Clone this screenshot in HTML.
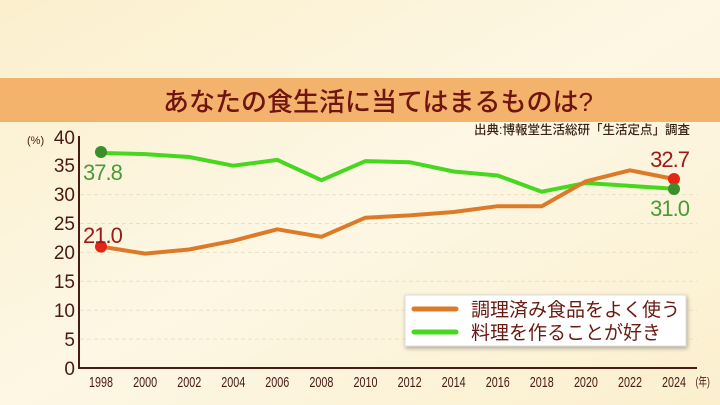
<!DOCTYPE html><html><head><meta charset="utf-8"><style>
html,body{margin:0;padding:0;width:720px;height:405px;overflow:hidden;background:#fcf3d6}
text{font-family:"Liberation Sans","Noto Sans CJK JP",sans-serif}
</style></head><body>
<svg width="720" height="405" viewBox="0 0 720 405">
<defs><linearGradient id="bg" x1="0" y1="0" x2="1" y2="1"><stop offset="0" stop-color="#fbefcd"/><stop offset="0.5" stop-color="#fdf7e4"/><stop offset="1" stop-color="#fbefcd"/></linearGradient></defs>
<rect width="720" height="405" fill="url(#bg)"/>
<rect x="0" y="78" width="720" height="44" fill="#f3b36c"/>
<text x="378" y="111" text-anchor="middle" font-size="26" font-weight="500" fill="#6e1510" font-family="Noto Sans CJK JP,sans-serif">あなたの食生活に当てはまるものは?</text>
<text x="690" y="134" text-anchor="end" font-size="12.5" font-weight="500" fill="#3a2418" font-family="Noto Sans CJK JP,sans-serif">出典:博報堂生活総研「生活定点」調査</text>
<g stroke="#e9dfc8" stroke-dasharray="4,3" stroke-width="1">
<line x1="80" x2="697" y1="310.2" y2="310.2"/><line x1="80" x2="697" y1="281.3" y2="281.3"/><line x1="80" x2="697" y1="252.4" y2="252.4"/><line x1="80" x2="697" y1="223.5" y2="223.5"/><line x1="80" x2="697" y1="194.6" y2="194.6"/><line x1="80" x2="697" y1="339.1" y2="339.1"/>
</g>
<g stroke="#4a1a14" stroke-width="2"><line x1="79" y1="136" x2="79" y2="369"/><line x1="78" y1="368" x2="697" y2="368"/></g>
<g font-size="19" fill="#4a1a14" text-anchor="end">
<text x="75" y="375">0</text><text x="75" y="346">5</text><text x="75" y="317">10</text><text x="75" y="288">15</text><text x="75" y="259">20</text><text x="75" y="230">25</text><text x="75" y="201">30</text><text x="75" y="172">35</text><text x="75" y="144">40</text></g>
<text x="27" y="144" font-size="11" fill="#4a1a14">(%)</text>
<g font-size="15" fill="#4a1a14" text-anchor="middle" transform="scale(0.72,1)">
<text x="140.3" y="387">1998</text><text x="201.5" y="387">2000</text><text x="262.8" y="387">2002</text><text x="323.9" y="387">2004</text><text x="385.1" y="387">2006</text><text x="446.4" y="387">2008</text><text x="507.6" y="387">2010</text><text x="568.9" y="387">2012</text><text x="630" y="387">2014</text><text x="691.3" y="387">2016</text><text x="752.5" y="387">2018</text><text x="813.8" y="387">2020</text><text x="875" y="387">2022</text><text x="936.1" y="387">2024</text><text x="976" y="386" font-size="12">(年)</text></g>
<polyline fill="none" stroke="#45d81e" stroke-width="4" stroke-linejoin="round" points="101,153 145.1,154.1 189.2,157 233.2,165.7 277.3,159.9 321.4,180.2 365.5,161.1 409.6,162.2 453.6,171.5 497.7,175.5 541.8,191.7 585.9,183 630,185.9 674,188.8"/>
<polyline fill="none" stroke="#dd7a27" stroke-width="4" stroke-linejoin="round" points="101,246.6 145.1,253.6 189.2,249.5 233.2,240.8 277.3,229.3 321.4,236.8 365.5,217.7 409.6,215.4 453.6,212 497.7,206.2 541.8,206.2 585.9,181.3 630,170.3 674,179"/>
<circle cx="101" cy="152" r="6" fill="#3a8f2a"/><circle cx="101" cy="246.6" r="6" fill="#e32618"/>
<circle cx="674" cy="179" r="6" fill="#e32618"/><circle cx="674" cy="189" r="6" fill="#3a8f2a"/>
<text x="83" y="180" font-size="22" fill="#4a9a38" letter-spacing="-1">37.8</text>
<text x="83" y="243" font-size="22" fill="#9a1a1a" letter-spacing="-1">21.0</text>
<text x="689" y="167" font-size="22" fill="#9a1a1a" text-anchor="end" letter-spacing="-1">32.7</text>
<text x="689" y="216" font-size="22" fill="#4a9a38" text-anchor="end" letter-spacing="-1">31.0</text>
<rect x="405" y="295" width="281" height="51" fill="#fff" stroke="#ddd" stroke-width="1" style="filter:drop-shadow(1px 2px 2px rgba(0,0,0,.3))"/>
<line x1="414" y1="309" x2="456" y2="309" stroke="#dd7a27" stroke-width="5" stroke-linecap="round"/>
<line x1="414" y1="332" x2="456" y2="332" stroke="#45d81e" stroke-width="5" stroke-linecap="round"/>
<text x="471" y="316" font-size="19" fill="#6a1a12" font-family="Noto Sans CJK JP,sans-serif">調理済み食品をよく使う</text>
<text x="471" y="339" font-size="19" fill="#6a1a12" font-family="Noto Sans CJK JP,sans-serif">料理を作ることが好き</text>
</svg></body></html>
